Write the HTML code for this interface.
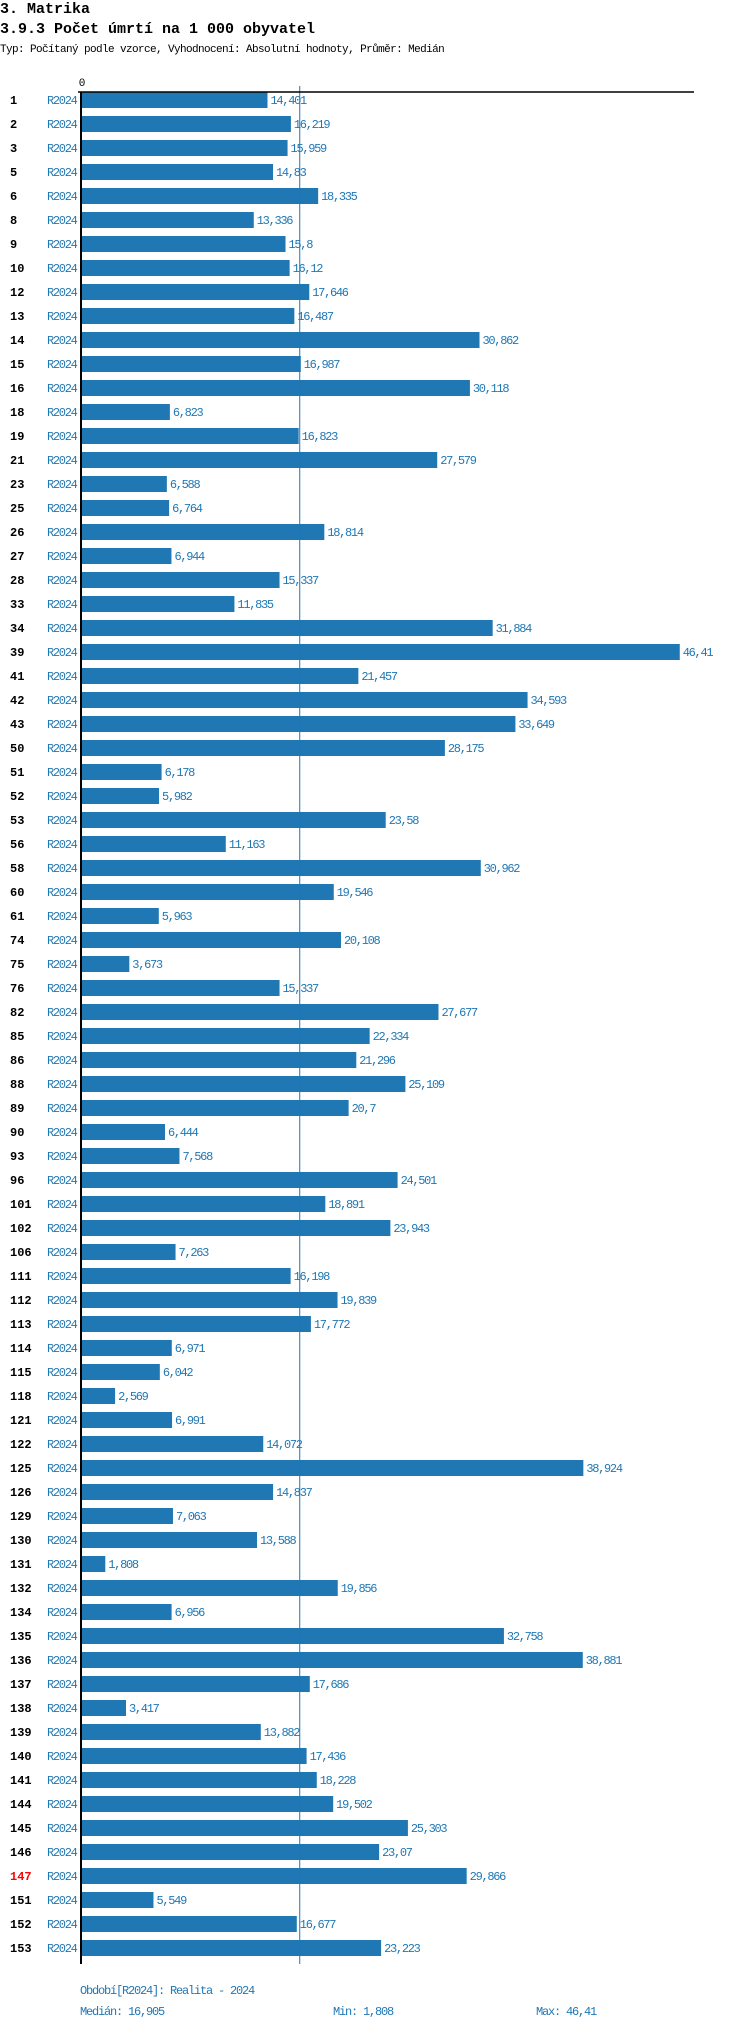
<!DOCTYPE html>
<html><head><meta charset="utf-8"><style>
body{margin:0;background:#fff;width:750px;height:2024px;overflow:hidden;font-family:"Liberation Mono",monospace;}
.t1{position:absolute;left:0;top:1px;font-size:15px;font-weight:bold;}
.t2{position:absolute;left:0;top:21px;font-size:15px;font-weight:bold;}
.t3{position:absolute;left:0;top:44px;font-size:11px;letter-spacing:-0.6px;}
svg text{font-family:"Liberation Mono",monospace;}
</style></head><body>
<div class="t1">3. Matrika</div>
<div class="t2">3.9.3 Počet úmrtí na 1 000 obyvatel</div>
<div class="t3">Typ: Počítaný podle vzorce, Vyhodnocení: Absolutní hodnoty, Průměr: Medián</div>
<svg id="chart" width="750" height="2024" style="position:absolute;left:0;top:0"></svg>
<script>
const categories=[1,2,3,5,6,8,9,10,12,13,14,15,16,18,19,21,23,25,26,27,28,33,34,39,41,42,43,50,51,52,53,56,58,60,61,74,75,76,82,85,86,88,89,90,93,96,101,102,106,111,112,113,114,115,118,121,122,125,126,129,130,131,132,134,135,136,137,138,139,140,141,144,145,146,147,151,152,153];
const values=[14.401,16.219,15.959,14.83,18.335,13.336,15.8,16.12,17.646,16.487,30.862,16.987,30.118,6.823,16.823,27.579,6.588,6.764,18.814,6.944,15.337,11.835,31.884,46.41,21.457,34.593,33.649,28.175,6.178,5.982,23.58,11.163,30.962,19.546,5.963,20.108,3.673,15.337,27.677,22.334,21.296,25.109,20.7,6.444,7.568,24.501,18.891,23.943,7.263,16.198,19.839,17.772,6.971,6.042,2.569,6.991,14.072,38.924,14.837,7.063,13.588,1.808,19.856,6.956,32.758,38.881,17.686,3.417,13.882,17.436,18.228,19.502,25.303,23.07,29.866,5.549,16.677,23.223];
const period="R2024";
const median=16.905, minV=1.808, maxV=46.41;
const highlighted=[147];
const NS="http://www.w3.org/2000/svg";
const svg=document.getElementById('chart');
const x0=82, k=12.88, y0=92, pitch=24, bh=16;
const xs=v=>x0+v*k;
const ys=i=>y0+i*pitch;
const fmt=v=>String(v).replace('.',',');
function mk(tag,attrs,txt){const e=document.createElementNS(NS,tag);for(const a in attrs)e.setAttribute(a,attrs[a]);if(txt!==undefined)e.textContent=txt;svg.appendChild(e);return e;}
const yEnd=ys(categories.length);
categories.forEach((c,i)=>{
  const v=values[i];
  const r=mk('rect',{x:x0,y:ys(i),width:xs(v)-x0,height:bh,fill:'#1f77b4'});
  
  
  const t=mk('text',{x:xs(v)+3,y:ys(i)+12,'font-size':12,'letter-spacing':-1.3,fill:'#1f77b4'},fmt(v));
  
  
  const n=mk('text',{x:10,y:ys(i)+12,'font-size':12,'font-weight':'bold',fill:highlighted.includes(c)?'#ff0000':'#000'},String(c));
  
  
  const p=mk('text',{x:47,y:ys(i)+12,'font-size':12,'letter-spacing':-1.3,fill:'#1f77b4'},period);
  
  
});
const ml=mk('line',{x1:xs(median),x2:xs(median),y1:y0-6,y2:yEnd,stroke:'#1f77b4','stroke-width':1});


const ax=mk('line',{x1:78,x2:694,y1:y0,y2:y0,stroke:'#000','stroke-width':1.5});


const ay=mk('line',{x1:81,x2:81,y1:y0,y2:yEnd,stroke:'#000','stroke-width':2});


const z=mk('text',{x:x0,y:y0-6,'font-size':11,fill:'#000','text-anchor':'middle'},'0');


const f1=mk('text',{x:80,y:yEnd+30,'font-size':12,'letter-spacing':-1.2,fill:'#1f77b4'},'Období['+period+']: Realita - 2024');


const f2=mk('text',{x:80,y:yEnd+51,'font-size':12,'letter-spacing':-1.2,fill:'#1f77b4'},'Medián: '+fmt(median));


const f3=mk('text',{x:333,y:yEnd+51,'font-size':12,'letter-spacing':-1.2,fill:'#1f77b4'},'Min: '+fmt(minV));


const f4=mk('text',{x:536,y:yEnd+51,'font-size':12,'letter-spacing':-1.2,fill:'#1f77b4'},'Max: '+fmt(maxV));


</script>
</body></html>
